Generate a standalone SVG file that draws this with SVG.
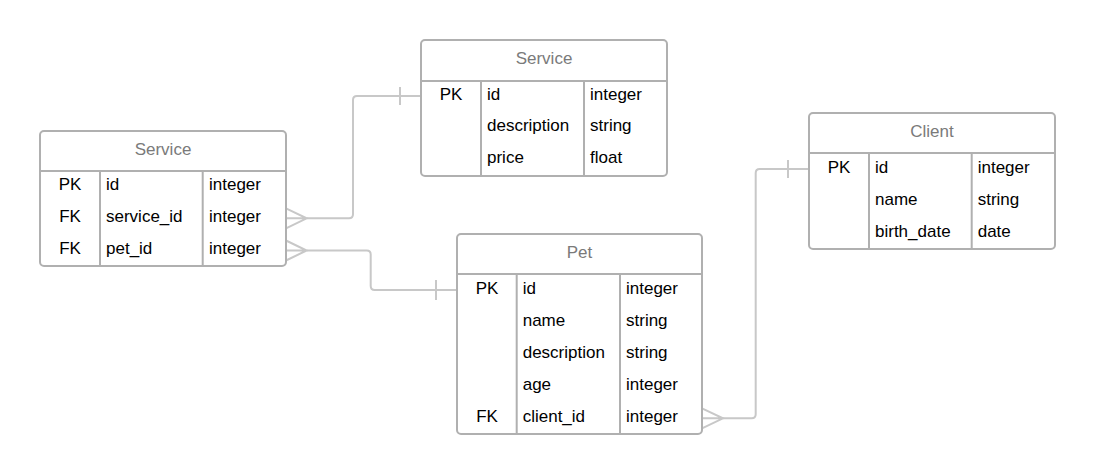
<svg xmlns="http://www.w3.org/2000/svg" width="1095" height="475" viewBox="0 0 1095 475">
<style>
.box{fill:#fff;stroke:#b0b0b0;stroke-width:2}
.ln{stroke:#b0b0b0;stroke-width:2;fill:none}
.hd{font-family:"Liberation Sans",Arial,sans-serif;font-size:17px;fill:#7a7a7a;text-anchor:middle}
.t{font-family:"Liberation Sans",Arial,sans-serif;font-size:17px;fill:#000}
.k{text-anchor:middle}
.c{stroke:#c8c8c8;stroke-width:2;fill:none}
</style>
<rect width="1095" height="475" fill="#fff"/>
<g id="connectors">
<path class="c" d="M306.7,218.3 H349 Q353,218.3 353,214.3 V100 Q353,96 357,96 H421"/>
<path class="c" d="M286,208.3 L306.7,218.3 L286,228.3 M286,218.3 H306.7 M400,87 V105"/>
<path class="c" d="M306.7,250.5 H366.7 Q370.7,250.5 370.7,254.5 V286 Q370.7,290 374.7,290 H457"/>
<path class="c" d="M286,240.5 L306.7,250.5 L286,260.5 M286,250.5 H306.7 M436,280 V300"/>
<path class="c" d="M723,418.3 H751.7 Q755.7,418.3 755.7,414.3 V173 Q755.7,169 759.7,169 H809"/>
<path class="c" d="M702,408.3 L723,418.3 L702,428.3 M702,418.3 H723 M788,160 V178"/>
</g>
<g id="service-left">
<rect class="box" x="40" y="131" width="246" height="135" rx="4"/>
<path class="ln" d="M40,171 H286 M100,171 V266 M202.7,171 V266"/>
<text class="hd" x="163" y="154.5">Service</text>
<text class="t k" x="70" y="190">PK</text><text class="t" x="106" y="190">id</text><text class="t" x="209" y="190">integer</text>
<text class="t k" x="70" y="222">FK</text><text class="t" x="106" y="222">service_id</text><text class="t" x="209" y="222">integer</text>
<text class="t k" x="70" y="254">FK</text><text class="t" x="106" y="254">pet_id</text><text class="t" x="209" y="254">integer</text>
</g>
<g id="service-top">
<rect class="box" x="421" y="40" width="246" height="136" rx="4"/>
<path class="ln" d="M421,81 H667 M481,81 V176 M584,81 V176"/>
<text class="hd" x="544" y="63.5">Service</text>
<text class="t k" x="451" y="99.5">PK</text><text class="t" x="487" y="99.5">id</text><text class="t" x="590" y="99.5">integer</text>
<text class="t" x="487" y="131">description</text><text class="t" x="590" y="131">string</text>
<text class="t" x="487" y="162.5">price</text><text class="t" x="590" y="162.5">float</text>
</g>
<g id="pet">
<rect class="box" x="457" y="234" width="245" height="200" rx="4"/>
<path class="ln" d="M457,274 H702 M516.7,274 V434 M620,274 V434"/>
<text class="hd" x="579.5" y="257.5">Pet</text>
<text class="t k" x="487" y="293.5">PK</text><text class="t" x="522.7" y="293.5">id</text><text class="t" x="626" y="293.5">integer</text>
<text class="t" x="522.7" y="325.5">name</text><text class="t" x="626" y="325.5">string</text>
<text class="t" x="522.7" y="357.5">description</text><text class="t" x="626" y="357.5">string</text>
<text class="t" x="522.7" y="389.5">age</text><text class="t" x="626" y="389.5">integer</text>
<text class="t k" x="487" y="421.5">FK</text><text class="t" x="522.7" y="421.5">client_id</text><text class="t" x="626" y="421.5">integer</text>
</g>
<g id="client">
<rect class="box" x="809" y="113" width="246" height="136" rx="4"/>
<path class="ln" d="M809,153 H1055 M869,153 V249 M971.7,153 V249"/>
<text class="hd" x="932" y="136.5">Client</text>
<text class="t k" x="839" y="172.5">PK</text><text class="t" x="875" y="172.5">id</text><text class="t" x="977.7" y="172.5">integer</text>
<text class="t" x="875" y="204.5">name</text><text class="t" x="977.7" y="204.5">string</text>
<text class="t" x="875" y="236.5">birth_date</text><text class="t" x="977.7" y="236.5">date</text>
</g>
</svg>
